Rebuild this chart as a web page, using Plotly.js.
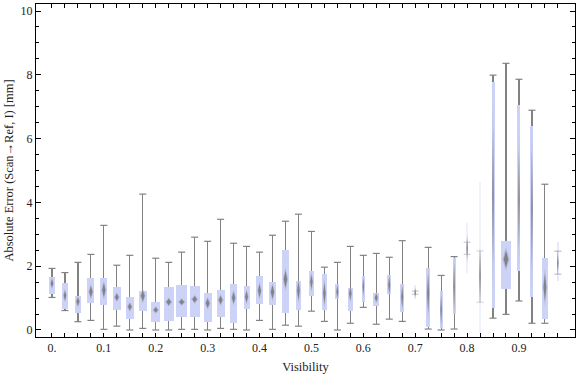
<!DOCTYPE html>
<html>
<head>
<meta charset="utf-8">
<script src="https://cdn.plot.ly/plotly-3.0.1.min.js"></script>
<style>html,body{margin:0;padding:0;background:#fff;}#chart{width:576px;height:377px;}</style>
</head>
<body>
<div id="chart"></div>
<script>
// ---- data ----
var visibility = [0, 0.025, 0.05, 0.075, 0.1, 0.125, 0.15, 0.175, 0.2, 0.225,
                  0.25, 0.275, 0.3, 0.325, 0.35, 0.375, 0.4, 0.425, 0.45, 0.475,
                  0.5, 0.525, 0.55, 0.575, 0.6, 0.625, 0.65, 0.675, 0.7, 0.725,
                  0.75, 0.775, 0.8, 0.825, 0.85, 0.875, 0.9, 0.925, 0.95, 0.975];
var whiskerLow = [1.02, 0.61, 0.26, 0.30, 0.02, 0.12, 0.00, 0.05, 0.00, 0.00,
                  0.02, 0.02, 0.00, 0.05, 0.02, 0.00, 0.30, 0.02, 0.15, 0.12,
                  0.59, 0.27, 0.00, 0.21, 0.71, 0.18, 0.34, 0.27, 1.12, 0.03,
                  0.00, 0.03, 2.37, 0.87, 0.37, 0.49, 0.91, 0.21, 0.21, 1.75];
var quartile1  = [1.14, 0.66, 0.54, 0.86, 0.77, 0.64, 0.35, 0.61, 0.26, 0.29,
                  0.42, 0.42, 0.26, 0.42, 0.23, 0.67, 0.82, 0.79, 0.54, 0.64,
                  1.08, 0.64, 0.98, 0.61, 0.89, 0.76, 1.14, 0.57, 0.96, 0.09,
                  0.07, 0.51, 1.78, -0.10, 0.70, 1.30, 1.85, 1.04, 0.36, 1.55];
var medians    = [1.46, 1.08, 0.89, 1.20, 1.25, 1.03, 0.73, 1.07, 0.63, 0.88,
                  0.88, 0.96, 0.84, 0.94, 1.01, 1.04, 1.23, 1.19, 1.59, 1.23,
                  1.51, 1.15, 1.20, 1.14, 1.36, 1.01, 1.41, 1.04, 1.17, 1.15,
                  0.63, 1.36, 2.56, 1.70, 4.20, 2.22, 4.10, 3.80, 1.34, 2.10];
var quartile3  = [1.66, 1.46, 1.07, 1.63, 1.63, 1.35, 1.03, 1.22, 0.88, 1.35,
                  1.41, 1.38, 1.16, 1.25, 1.44, 1.38, 1.69, 1.50, 2.51, 1.54,
                  1.85, 1.76, 1.44, 1.32, 1.69, 1.16, 1.72, 1.44, 1.41, 1.94,
                  1.22, 2.27, 3.34, 4.65, 7.78, 2.79, 7.05, 6.39, 2.26, 2.76];
var whiskerHigh= [1.93, 1.80, 2.12, 2.37, 3.28, 2.03, 2.34, 4.26, 2.25, 2.12,
                  2.44, 2.91, 2.78, 3.47, 2.72, 2.62, 2.44, 2.97, 3.41, 3.63,
                  3.09, 1.97, 2.12, 2.62, 2.34, 2.40, 2.28, 2.80, 1.22, 2.59,
                  1.71, 2.30, 2.75, 2.48, 7.99, 8.36, 7.86, 6.89, 4.57, 2.47];
var medianSpread=[0.16, 0.18, 0.16, 0.21, 0.26, 0.13, 0.13, 0.20, 0.10, 0.12,
                  0.10, 0.12, 0.17, 0.16, 0.21, 0.21, 0.24, 0.25, 0.31, 0.34,
                  0.27, 0.39, 0.23, 0.24, 0.31, 0.15, 0.31, 0.39, 0.15, 0.70,
                  0.52, 0.84, 0.40, 0.80, 2.50, 0.31, 1.80, 2.20, 0.50, 0.30];
var xTickLabels = ['0.', '0.1', '0.2', '0.3', '0.4', '0.5', '0.6', '0.7', '0.8', '0.9'];

// ---- styles ----
var boxWidthPx = [5.3, 5.3, 6.3, 7, 7, 8, 8, 8, 9, 10,
                  10.7, 10, 8, 8, 7, 6, 6.3, 7, 7.3, 5.3,
                  5, 5, 4, 5, 3, 6, 4, 4, 2, 4.3,
                  3, 3, 1.2, 1.2, 3, 10, 3, 3, 6, 2];
var faintness  = [1,1,1,1,1,1,1,1,1,1, 1,1,1,1,1,1,1,1,1,1,
                  1,1,1,1,1,1,1,1,0.4,1, 1,1,0.35,0.3,1,1,1,1,1,0.5];

var pxPerStep = 12.97, step = 0.025;
var toData = function(px){ return px * step / pxPerStep; };

var boxW = boxWidthPx.map(toData);
var gray = '#828282';
var lav = '#cdd3f7';

var whiskerTrace = {
  type: 'bar', x: visibility, base: whiskerLow,
  y: whiskerHigh.map(function(h, i){ return h - whiskerLow[i]; }),
  width: visibility.map(function(){ return toData(1.15); }),
  marker: {color: gray, opacity: faintness, line: {width: 0}},
  hoverinfo: 'skip', showlegend: false
};
var boxTrace = {
  type: 'bar', x: visibility, base: quartile1,
  y: quartile3.map(function(h, i){ return h - quartile1[i]; }),
  width: boxW,
  marker: {color: lav, opacity: faintness, line: {width: 0}},
  hoverinfo: 'skip', showlegend: false
};
var capX = [], capY = [], capOp = [];
visibility.forEach(function(v, i){
  capX.push(v, v); capY.push(whiskerLow[i], whiskerHigh[i]); capOp.push(faintness[i], faintness[i]);
});
var capTrace = {
  type: 'scatter', mode: 'markers', x: capX, y: capY,
  marker: {symbol: 'line-ew', size: 5, opacity: capOp, line: {width: 1.2, color: gray}},
  hoverinfo: 'skip', showlegend: false
};
function diamonds(scaleW, scaleH){
  var dx = [], dy = [];
  visibility.forEach(function(v, i){
    var hw = Math.max(boxW[i] * 0.27, toData(0.7)) * scaleW;
    var hh = medianSpread[i] * scaleH;
    var m = medians[i];
    dx.push(v - hw, v, v + hw, v, v - hw, null);
    dy.push(m, m + hh, m, m - hh, m, null);
  });
  return {x: dx, y: dy};
}
var dOuter = diamonds(1.35, 1.2), dInner = diamonds(0.85, 0.85);
var haloTrace = {
  type: 'scatter', mode: 'lines', x: dOuter.x, y: dOuter.y, fill: 'toself',
  fillcolor: 'rgba(140,140,150,0.35)', line: {width: 0}, hoverinfo: 'skip', showlegend: false
};
var diamondTrace = {
  type: 'scatter', mode: 'lines', x: dInner.x, y: dInner.y, fill: 'toself',
  fillcolor: 'rgba(115,115,120,0.8)', line: {width: 0}, hoverinfo: 'skip', showlegend: false
};

var tickText = visibility.map(function(v, i){ return (i % 4 === 0) ? xTickLabels[i / 4] : ''; });
var font = 'Liberation Serif, Times New Roman, serif';

var layout = {
  width: 576, height: 377,
  margin: {l: 36, r: 1, t: 4, b: 40, pad: 0},
  paper_bgcolor: '#fff', plot_bgcolor: '#fff',
  barmode: 'overlay', bargap: 0,
  showlegend: false,
  font: {family: font, size: 12, color: '#222'},
  xaxis: {
    range: [-0.0308, 1.008], showgrid: false, zeroline: false,
    showline: true, linecolor: '#000', linewidth: 1, mirror: 'ticks',
    ticks: 'inside', ticklen: 4, tickwidth: 1, tickcolor: '#000',
    tickvals: visibility, ticktext: tickText,
    tickfont: {family: font, size: 12, color: '#222'},
    title: {text: 'Visibility', font: {family: font, size: 12.5, color: '#222'}, standoff: 7}
  },
  yaxis: {
    range: [-0.22, 10.22], showgrid: false, zeroline: false,
    showline: true, linecolor: '#000', linewidth: 1, mirror: 'ticks',
    ticks: 'inside', ticklen: 5, tickwidth: 1, tickcolor: '#000',
    tick0: 0, dtick: 2,
    minor: {dtick: 0.5, ticks: 'inside', ticklen: 3, tickwidth: 1, tickcolor: '#000', showgrid: false},
    tickfont: {family: font, size: 12, color: '#222'},
    title: {text: 'Absolute Error (Scan\u2192Ref, I) [mm]', font: {family: font, size: 12.5, color: '#222'}, standoff: 4}
  }
};

Plotly.newPlot('chart', [whiskerTrace, boxTrace, capTrace, haloTrace, diamondTrace], layout,
  {staticPlot: true, displayModeBar: false});
</script>
</body>
</html>
